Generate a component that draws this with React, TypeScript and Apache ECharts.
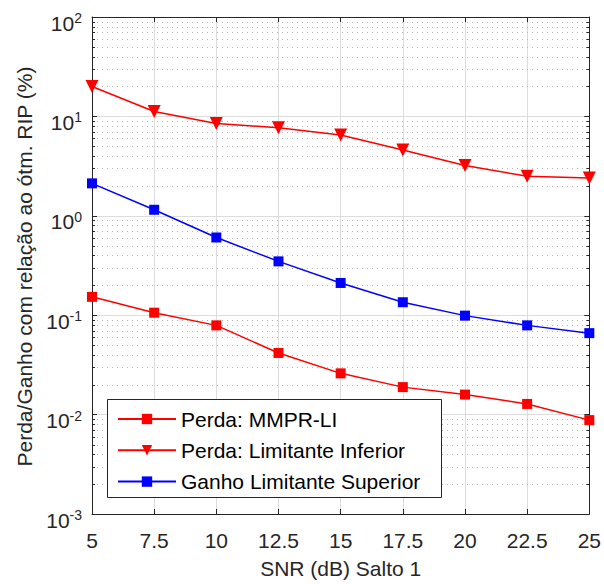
import React, { useEffect, useRef } from "react";
import * as echarts from "echarts";

const snr = [5, 7.5, 10, 12.5, 15, 17.5, 20, 22.5, 25];
const perdaMMPR = [0.153, 0.106, 0.079, 0.0417, 0.026, 0.0189, 0.0159, 0.0128, 0.0088];
const perdaLimInf = [20, 11.2, 8.5, 7.7, 6.5, 4.6, 3.2, 2.5, 2.4];
const ganhoLimSup = [2.12, 1.15, 0.605, 0.348, 0.211, 0.135, 0.099, 0.079, 0.066];
const seriesNames = ["Perda: MMPR-LI", "Perda: Limitante Inferior", "Ganho Limitante Superior"];
const decades = [-3, -2, -1, 0, 1];
const minorSteps = [2, 3, 4, 5, 6, 7, 8, 9];
const yTitle = "Perda/Ganho com relação ao ótm. RIP (%)";
const xTitle = "SNR (dB) Salto 1";

const TXT = "#262626";
const FONT = "Liberation Sans";
const FS = 21;

export default function App() {
  const ref = useRef<HTMLDivElement>(null);
  useEffect(() => {
    if (!ref.current) return;
    const chart = echarts.init(ref.current, undefined, { renderer: "svg" });
    const minorVals: number[][] = [];
    decades.forEach((d) => minorSteps.forEach((k) => minorVals.push([5, k * Math.pow(10, d)])));
    const labelFmt = (v: number) => {
      const e = Math.round(Math.log10(v));
      return `{b|10}{s|${e}}`;
    };
    const rich = {
      b: { fontSize: FS, color: TXT, fontFamily: FONT, lineHeight: 24 },
      s: { fontSize: 14, color: TXT, fontFamily: FONT, verticalAlign: "top", lineHeight: 14 },
    };
    const mk = (name: string, data: number[], color: string, symbol: string, size: number, rotate = 0) => ({
      name,
      type: "line",
      data: snr.map((x, i) => [x, data[i]]),
      symbol,
      symbolSize: size,
      symbolRotate: rotate,
      showAllSymbol: true,
      lineStyle: { color, width: 1.5 },
      itemStyle: { color, borderWidth: 0 },
      z: 5,
    });
    chart.setOption({
      animation: false,
      textStyle: { fontFamily: FONT },
      grid: { left: 92, right: 13, top: 17, bottom: 68 },
      graphic: [
        {
          type: "rect",
          z: 3,
          shape: { x: 107.5, y: 399.5, width: 334, height: 98 },
          style: { fill: "#fff", stroke: TXT, lineWidth: 1 },
        },
        {
          type: "text",
          x: 24,
          y: 266.5,
          rotation: Math.PI / 2,
          style: {
            text: yTitle,
            fontSize: FS,
            fontFamily: FONT,
            fill: TXT,
            align: "center",
            verticalAlign: "middle",
          },
        },
      ],
      xAxis: [
        {
          type: "value",
          min: 5,
          max: 25,
          interval: 2.5,
          name: xTitle,
          nameLocation: "middle",
          nameGap: 44,
          nameTextStyle: { fontSize: FS, color: TXT, fontFamily: FONT },
          axisLine: { lineStyle: { color: TXT, width: 1 } },
          axisTick: { inside: true, length: 5, lineStyle: { color: TXT } },
          axisLabel: { fontSize: FS, color: TXT, margin: 16, fontFamily: FONT },
          splitLine: { show: true, lineStyle: { color: "#dcdcdc", width: 1 } },
        },
        {
          type: "value",
          position: "top",
          min: 5,
          max: 25,
          interval: 2.5,
          axisLine: { show: true, lineStyle: { color: TXT, width: 1 } },
          axisTick: { inside: true, length: 5, lineStyle: { color: TXT } },
          axisLabel: { show: false },
          splitLine: { show: false },
        },
      ],
      yAxis: [
        {
          type: "log",
          logBase: 10,
          min: 0.001,
          max: 100,
          interval: 1,
          axisLine: { show: true, lineStyle: { color: TXT, width: 1 } },
          axisTick: { show: true, inside: true, length: 5, lineStyle: { color: TXT } },
          axisLabel: { formatter: labelFmt, rich, margin: 10, padding: [12, 0, 0, 0] },
          splitLine: { show: true, lineStyle: { color: "#dcdcdc", width: 1 } },
        },
        {
          type: "log",
          logBase: 10,
          min: 0.001,
          max: 100,
          interval: 1,
          position: "right",
          axisLine: { show: true, lineStyle: { color: TXT, width: 1 } },
          axisTick: { show: true, inside: true, length: 5, lineStyle: { color: TXT } },
          axisLabel: { show: false },
          splitLine: { show: false },
        },
      ],
      legend: {
        data: seriesNames,
        orient: "vertical",
        left: 107,
        top: 399,
        padding: [8, 7, 5, 10],
        itemGap: 7.3,
        itemWidth: 58,
        itemHeight: 13,
        z: 6,
        textStyle: { fontSize: FS, color: "#000", fontFamily: FONT, lineHeight: 24 },
      },
      series: [
        {
          type: "custom",
          silent: true,
          z: 1,
          data: minorVals,
          encode: { x: 0, y: 1 },
          renderItem: (params: any, api: any) => {
            const v = api.value(1);
            const p = api.coord([5, v]);
            const cs = params.coordSys;
            const y = Math.round(p[1]) + 0.5;
            return {
              type: "group",
              children: [
                {
                  type: "line",
                  shape: { x1: cs.x, y1: y, x2: cs.x + cs.width, y2: y },
                  style: { stroke: "#b5b5b5", lineWidth: 1, lineDash: [1, 4] },
                },
                {
                  type: "line",
                  shape: { x1: cs.x, y1: y, x2: cs.x + 3, y2: y },
                  style: { stroke: TXT, lineWidth: 1 },
                },
                {
                  type: "line",
                  shape: { x1: cs.x + cs.width - 3, y1: y, x2: cs.x + cs.width, y2: y },
                  style: { stroke: TXT, lineWidth: 1 },
                },
              ],
            };
          },
        },
        mk(seriesNames[0], perdaMMPR, "#ff0000", "rect", 10),
        mk(seriesNames[1], perdaLimInf, "#ff0000", "triangle", 13, 180),
        mk(seriesNames[2], ganhoLimSup, "#0000ff", "rect", 10),
      ],
    });
    return () => chart.dispose();
  }, []);
  return (
    <div
      ref={ref}
      style={{ position: "fixed", left: 0, top: 0, width: 604, height: 584, background: "#fff" }}
    />
  );
}
